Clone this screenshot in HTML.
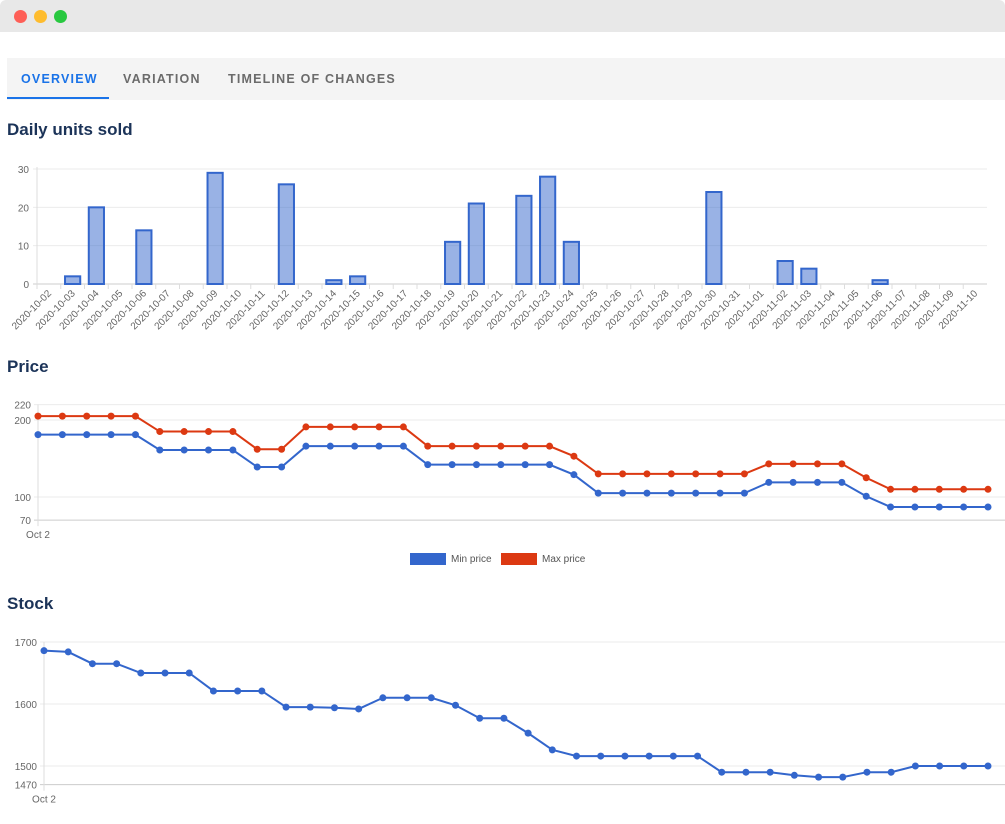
<!DOCTYPE html>
<html><head><meta charset="utf-8"><style>
body{margin:0;width:1005px;height:824px;overflow:hidden;background:#fff;font-family:"Liberation Sans",sans-serif;position:relative}
.bar{position:absolute;left:0;top:0;width:1005px;height:32px;background:#e8e8e8;border-radius:6px 6px 0 0}
.dot{position:absolute;top:10px;width:13px;height:13px;border-radius:50%}
.tabs{position:absolute;left:7px;top:58px;width:998px;height:42px;background:#f4f4f4}
.tab{position:absolute;top:14px;font-size:12.5px;font-weight:bold;letter-spacing:1.2px;color:#6b6b6b}
h2{position:absolute;left:7px;margin:0;font-size:17px;font-weight:bold;color:#1b3358}
svg{position:absolute;left:0;top:0}
</style></head><body>
<div class="bar">
<div class="dot" style="left:14px;background:#fe5f57"></div>
<div class="dot" style="left:34px;background:#febc2e"></div>
<div class="dot" style="left:54px;background:#28c840"></div>
</div>
<div class="tabs">
<div class="tab" style="left:14px;color:#1a73e8">OVERVIEW</div>
<div style="position:absolute;left:0;top:39px;width:102px;height:2px;background:#1a73e8"></div>
<div class="tab" style="left:116px">VARIATION</div>
<div class="tab" style="left:221px">TIMELINE OF CHANGES</div>
</div>
<h2 style="top:120px">Daily units sold</h2>
<h2 style="top:357px">Price</h2>
<h2 style="top:594px">Stock</h2>
<svg id="c" width="1005" height="824"></svg>
<script>
const dates=["2020-10-02","2020-10-03","2020-10-04","2020-10-05","2020-10-06","2020-10-07","2020-10-08","2020-10-09","2020-10-10","2020-10-11","2020-10-12","2020-10-13","2020-10-14","2020-10-15","2020-10-16","2020-10-17","2020-10-18","2020-10-19","2020-10-20","2020-10-21","2020-10-22","2020-10-23","2020-10-24","2020-10-25","2020-10-26","2020-10-27","2020-10-28","2020-10-29","2020-10-30","2020-10-31","2020-11-01","2020-11-02","2020-11-03","2020-11-04","2020-11-05","2020-11-06","2020-11-07","2020-11-08","2020-11-09","2020-11-10"];
const units=[0,2,20,0,14,0,0,29,0,0,26,0,1,2,0,0,0,11,21,0,23,28,11,0,0,0,0,0,24,0,0,6,4,0,0,1,0,0,0,0];
const unitTicks=[0,10,20,30];
const minPrice=[181,181,181,181,181,161,161,161,161,139,139,166,166,166,166,166,142,142,142,142,142,142,129,105,105,105,105,105,105,105,119,119,119,119,101,87,87,87,87,87];
const maxPrice=[205,205,205,205,205,185,185,185,185,162,162,191,191,191,191,191,166,166,166,166,166,166,153,130,130,130,130,130,130,130,143,143,143,143,125,110,110,110,110,110];
const priceTicks=[70,100,200,220];
const stock=[1686,1684,1665,1665,1650,1650,1650,1621,1621,1621,1595,1595,1594,1592,1610,1610,1610,1598,1577,1577,1553,1526,1516,1516,1516,1516,1516,1516,1490,1490,1490,1485,1482,1482,1490,1490,1500,1500,1500,1500];
const stockTicks=[1470,1500,1600,1700];
const xAxisLabel="Oct 2";
const svg=document.getElementById('c');const NS='http://www.w3.org/2000/svg';
function mk(t,a,p){const e=document.createElementNS(NS,t);for(const k in a)e.setAttribute(k,a[k]);(p||svg).appendChild(e);return e;}
// bar chart
const bx0=37,bx1=987,by0=284,byScale=115/30;
const bw=(bx1-bx0)/dates.length;
const yb=v=>by0-v*byScale;
unitTicks.forEach(t=>{
 const l=mk('line',{x1:bx0-4,x2:bx1,y1:yb(t),y2:yb(t),stroke:t===0?'#ccc':'#ebebeb'});
 
 
 const tx=mk('text',{x:bx0-8,y:yb(t)+4,'text-anchor':'end','font-size':10,fill:'#666'});tx.textContent=t;
 
 
});
mk('line',{x1:bx0,x2:bx0,y1:yb(30)-2,y2:by0+5,stroke:'#ddd'});
dates.forEach((d,i)=>{
 const x=bx0+bw*i;
 mk('line',{x1:x,x2:x,y1:by0,y2:by0+5,stroke:'#ddd'});
 const cx=x+bw/2;
 const t=mk('text',{x:cx+3,y:by0+10,'text-anchor':'end','font-size':10,fill:'#666',transform:`rotate(-45 ${cx+3} ${by0+10})`});t.textContent=d;
 
 
 if(units[i]>0){
  const r=mk('rect',{x:x+bw*0.18,y:yb(units[i]),width:bw*0.64,height:units[i]*byScale,fill:'rgba(51,102,204,0.5)',stroke:'#3366cc','stroke-width':2});
  
  
 }
});
// line chart helper
function lineChart(series,colors,names,ticks,x0,x1,yf,ybot,ytop){
 ticks.forEach(t=>{
  const l=mk('line',{x1:x0-4,x2:1005,y1:yf(t),y2:yf(t),stroke:t===ticks[0]?'#ccc':'#ebebeb'});
  
  
  const tx=mk('text',{x:x0-7,y:yf(t)+4,'text-anchor':'end','font-size':10,fill:'#666'});tx.textContent=t;
  
  
 });
 mk('line',{x1:x0,x2:x0,y1:ytop,y2:ybot+6,stroke:'#ddd'});
 const xl=mk('text',{x:x0,y:ybot+18,'text-anchor':'middle','font-size':10,fill:'#666'});xl.textContent=xAxisLabel;
 
 
 series.forEach((s,k)=>{
  const n=s.length,dx=(x1-x0)/(n-1);
  const pts=s.map((v,i)=>(x0+dx*i)+','+yf(v)).join(' ');
  const pl=mk('polyline',{points:pts,fill:'none',stroke:colors[k],'stroke-width':2});
  
  
  s.forEach((v,i)=>{
   const c=mk('circle',{cx:x0+dx*i,cy:yf(v),r:3.5,fill:colors[k]});
   
   
  });
 });
}
const yp=v=>497-(v-100)*0.77;
lineChart([minPrice,maxPrice],['#3366cc','#dc3912'],['min-price','max-price'],priceTicks,38,988,yp,yp(70),yp(220));
const ys=v=>704-(v-1600)*0.62;
lineChart([stock],['#3366cc'],['stock'],stockTicks,44,988,ys,ys(1470),ys(1700));
// legend
[['Min price','#3366cc',410],['Max price','#dc3912',501]].forEach(([n,c,x])=>{
 const r=mk('rect',{x:x,y:553,width:36,height:12,fill:c});
 
 
 const t=mk('text',{x:x+41,y:562,'font-size':10,fill:'#555'});t.textContent=n;
 
 
});
</script>
</body></html>
